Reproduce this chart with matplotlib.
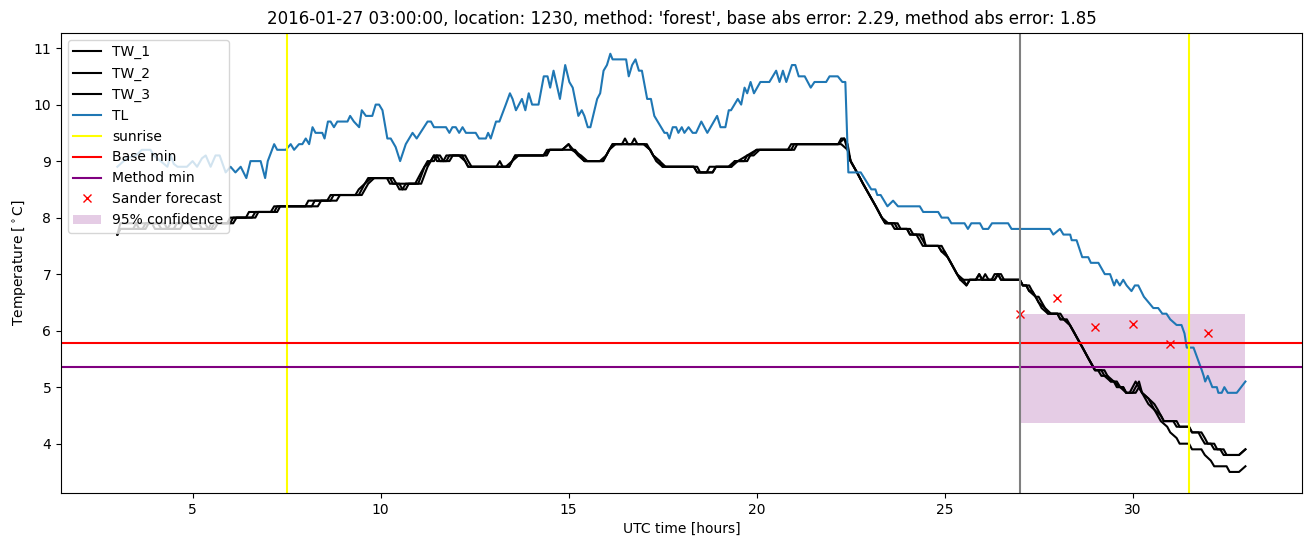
import numpy as np
import matplotlib
matplotlib.use("Agg")
import matplotlib.pyplot as plt

# TL (air temperature), vertices: hours, degC
tl_hours = [3.00, 3.25, 3.50, 3.65, 3.88, 3.97, 4.15, 4.33, 4.42, 4.50, 4.60, 4.85, 5.00, 5.12, 5.25, 5.35,
            5.48, 5.61, 5.72, 5.88, 6.01, 6.14, 6.28, 6.43, 6.54, 6.81, 6.93, 7.00, 7.17, 7.25, 7.48, 7.61,
            7.70, 7.83, 7.92, 8.01, 8.10, 8.19, 8.27, 8.45, 8.51, 8.60, 8.67, 8.76, 8.85, 9.12, 9.19, 9.29,
            9.43, 9.50, 9.61, 9.78, 9.87, 9.96, 10.05, 10.18, 10.27, 10.40, 10.52, 10.67, 10.85, 10.96, 11.25,
            11.34, 11.42, 11.74, 11.83, 11.91, 12.00, 12.09, 12.18, 12.27, 12.53, 12.62, 12.80, 12.86, 12.93,
            13.07, 13.16, 13.33, 13.44, 13.51, 13.60, 13.76, 13.85, 13.94, 14.03, 14.20, 14.34, 14.44, 14.51,
            14.60, 14.77, 14.91, 15.02, 15.11, 15.26, 15.35, 15.42, 15.51, 15.58, 15.76, 15.84, 15.93, 16.02,
            16.11, 16.17, 16.53, 16.60, 16.69, 16.78, 16.87, 16.95, 17.09, 17.19, 17.28, 17.46, 17.55, 17.62,
            17.68, 17.77, 17.86, 17.92, 18.01, 18.08, 18.19, 18.30, 18.39, 18.53, 18.69, 18.95, 19.04, 19.17,
            19.26, 19.32, 19.50, 19.59, 19.68, 19.75, 19.84, 19.93, 20.10, 20.34, 20.52, 20.61, 20.70, 20.79,
            20.94, 21.03, 21.12, 21.28, 21.44, 21.54, 21.85, 21.94, 22.16, 22.28, 22.36, 22.44, 22.77, 23.05,
            23.16, 23.21, 23.30, 23.48, 23.63, 23.76, 24.34, 24.43, 24.83, 24.92, 25.09, 25.18, 25.53, 25.62,
            25.71, 25.94, 26.02, 26.16, 26.26, 26.69, 26.78, 27.80, 27.89, 28.07, 28.16, 28.34, 28.38, 28.51,
            28.66, 28.82, 28.89, 29.09, 29.26, 29.40, 29.51, 29.57, 29.66, 29.75, 29.84, 29.97, 30.06, 30.15,
            30.30, 30.55, 30.68, 30.79, 30.90, 31.00, 31.17, 31.30, 31.38, 31.44, 31.62, 31.84, 31.89, 31.93,
            32.00, 32.12, 32.24, 32.28, 32.37, 32.44, 32.53, 32.77, 33.00]
tl_values = [8.9, 9.05, 9.1, 9.2, 9.2, 9.1, 9.0, 8.9, 9.1, 8.95, 8.9, 8.9, 9.0, 8.9, 9.05, 9.1,
             8.9, 9.1, 9.1, 8.8, 8.9, 8.8, 8.9, 8.7, 9.0, 9.0, 8.7, 9.0, 9.3, 9.2, 9.2, 9.3,
             9.2, 9.3, 9.3, 9.4, 9.3, 9.6, 9.5, 9.5, 9.4, 9.7, 9.7, 9.6, 9.7, 9.7, 9.8, 9.7,
             9.6, 9.9, 9.8, 9.8, 10.0, 10.0, 9.9, 9.4, 9.4, 9.25, 9.0, 9.3, 9.5, 9.4, 9.7,
             9.7, 9.6, 9.6, 9.5, 9.6, 9.6, 9.5, 9.6, 9.5, 9.5, 9.4, 9.4, 9.5, 9.4,
             9.7, 9.7, 10.0, 10.2, 10.1, 9.9, 10.1, 9.9, 10.2, 10.0, 10.0, 10.5, 10.5, 10.3,
             10.6, 10.1, 10.7, 10.4, 10.3, 9.8, 9.9, 9.8, 9.6, 9.6, 10.1, 10.2, 10.6, 10.7,
             10.9, 10.8, 10.8, 10.5, 10.7, 10.8, 10.6, 10.6, 10.1, 10.1, 9.8, 9.6, 9.5, 9.5,
             9.4, 9.6, 9.6, 9.5, 9.6, 9.5, 9.6, 9.5, 9.5, 9.7, 9.5, 9.8, 9.6, 9.6,
             9.9, 9.9, 10.1, 10.0, 10.3, 10.2, 10.4, 10.2, 10.4, 10.4, 10.6, 10.4, 10.6, 10.4,
             10.7, 10.7, 10.5, 10.5, 10.3, 10.4, 10.4, 10.5, 10.5, 10.4, 10.4, 8.8, 8.8, 8.5,
             8.5, 8.4, 8.4, 8.2, 8.3, 8.2, 8.2, 8.1, 8.1, 8.0, 8.0, 7.9, 7.9, 7.8,
             7.9, 7.9, 7.8, 7.8, 7.9, 7.9, 7.8, 7.8, 7.7, 7.8, 7.7, 7.7, 7.6, 7.6,
             7.3, 7.3, 7.2, 7.2, 7.0, 7.0, 6.8, 6.9, 6.8, 6.9, 6.8, 6.7, 6.8, 6.8,
             6.6, 6.4, 6.4, 6.3, 6.3, 6.2, 6.1, 6.1, 5.95, 5.7, 5.7, 5.3, 5.2, 5.1,
             5.2, 5.0, 5.0, 4.9, 4.9, 5.0, 4.9, 4.9, 5.1]

# TW_1..3 (road temperature sensors)
tw1_hours = [3.00, 3.08, 3.50, 3.58, 3.75, 3.83, 4.25, 4.33, 4.67, 4.75, 5.33, 5.42, 5.58, 5.67, 6.00, 6.08,
             6.58, 6.67, 7.17, 7.25, 8.17, 8.25, 8.58, 8.67, 9.42, 9.50, 9.58, 9.75, 10.25, 10.33, 10.50,
             10.58, 10.67, 10.75, 11.00, 11.17, 11.33, 11.42, 11.50, 11.58, 11.75, 11.83, 12.17, 12.33, 13.08,
             13.17, 13.25, 13.42, 13.58, 14.33, 14.42, 14.83, 15.00, 15.08, 15.33, 15.50, 15.83, 16.00, 16.17,
             16.42, 16.50, 16.58, 16.67, 16.75, 16.83, 17.00, 17.17, 17.33, 17.50, 18.33, 18.42, 18.83, 18.92,
             19.25, 19.42, 19.67, 19.75, 20.00, 20.92, 21.00, 22.17, 22.25, 22.33, 22.42, 22.50, 22.67, 22.83,
             23.00, 23.17, 23.33, 23.42, 23.67, 23.75, 24.00, 24.08, 24.33, 24.42, 24.50, 24.83, 24.92, 25.00,
             25.17, 25.33, 25.50, 25.58, 25.67, 25.83, 25.92, 26.00, 26.25, 26.33, 26.50, 26.58, 27.00, 27.08,
             27.17, 27.25, 27.33, 27.42, 27.50, 27.67, 27.83, 28.00, 28.08, 28.25, 28.42, 28.58, 28.75, 28.92,
             29.00, 29.17, 29.25, 29.42, 29.58, 29.67, 29.75, 29.83, 30.00, 30.08, 30.17, 30.25, 30.42, 30.58,
             30.67, 30.75, 30.83, 31.17, 31.25, 31.50, 31.58, 31.83, 31.92, 32.00, 32.17, 32.25, 32.42, 32.50,
             32.83, 33.00]
tw1_values = [7.7, 7.9, 7.9, 7.8, 7.8, 7.9, 7.9, 7.8, 7.8, 7.9, 7.9, 7.8, 7.8, 7.9, 7.9, 8.0,
              8.0, 8.1, 8.1, 8.2, 8.2, 8.3, 8.3, 8.4, 8.4, 8.5, 8.6, 8.7, 8.7, 8.6, 8.6,
              8.5, 8.5, 8.6, 8.6, 8.9, 9.0, 9.1, 9.1, 9.0, 9.0, 9.1, 9.1, 8.9, 8.9,
              9.0, 8.9, 8.9, 9.1, 9.1, 9.2, 9.2, 9.3, 9.2, 9.1, 9.0, 9.0, 9.1, 9.3,
              9.3, 9.4, 9.3, 9.3, 9.4, 9.3, 9.3, 9.2, 9.0, 8.9, 8.9, 8.8, 8.8, 8.9,
              8.9, 9.0, 9.0, 9.1, 9.2, 9.2, 9.3, 9.3, 9.4, 9.4, 9.2, 9.0, 8.8, 8.6,
              8.4, 8.2, 8.0, 7.9, 7.9, 7.8, 7.8, 7.7, 7.7, 7.6, 7.5, 7.5, 7.4, 7.4,
              7.2, 7.0, 6.9, 6.8, 6.9, 6.9, 7.0, 6.9, 6.9, 7.0, 7.0, 6.9, 6.9, 6.8,
              6.8, 6.7, 6.7, 6.6, 6.5, 6.4, 6.3, 6.3, 6.2, 6.2, 6.0, 5.8, 5.6, 5.4,
              5.3, 5.3, 5.2, 5.1, 5.1, 5.0, 5.0, 4.9, 4.9, 5.0, 5.1, 4.9, 4.8, 4.7,
              4.6, 4.5, 4.4, 4.4, 4.3, 4.3, 4.2, 4.2, 4.1, 4.0, 4.0, 3.9, 3.9, 3.8,
              3.8, 3.9]

tw2_hours = [3.00, 3.08, 3.42, 3.50, 3.92, 4.00, 4.50, 4.58, 4.92, 5.00, 5.50, 5.58, 5.92, 6.00, 6.42, 6.50,
             7.08, 7.17, 8.00, 8.08, 8.83, 8.92, 9.50, 9.67, 9.83, 10.17, 10.25, 10.42, 10.50, 10.58, 10.67,
             11.08, 11.25, 11.42, 11.50, 11.67, 11.75, 12.25, 12.33, 12.42, 13.33, 13.50, 13.58, 14.33, 14.50,
             14.83, 15.00, 15.25, 15.42, 15.92, 16.08, 16.17, 17.08, 17.25, 17.42, 17.58, 18.42, 18.50, 18.67,
             18.75, 19.33, 19.50, 19.75, 19.92, 20.08, 20.83, 20.92, 22.25, 22.42, 22.50, 22.67, 22.83, 23.00,
             23.17, 23.33, 23.42, 23.58, 23.67, 24.08, 24.17, 24.42, 24.50, 24.92, 25.00, 25.33, 25.42, 25.58,
             26.00, 26.08, 26.17, 26.33, 26.42, 26.50, 27.00, 27.08, 27.25, 27.33, 27.42, 27.50, 27.67, 27.75,
             28.08, 28.17, 28.33, 28.50, 28.67, 28.83, 29.00, 29.25, 29.33, 29.50, 29.67, 29.83, 30.08, 30.17,
             30.25, 30.42, 30.58, 30.75, 30.83, 31.08, 31.17, 31.50, 31.58, 31.75, 31.83, 31.92, 32.08, 32.17,
             32.33, 32.42, 32.83, 33.00]
tw2_values = [7.7, 7.8, 7.8, 7.9, 7.9, 7.8, 7.8, 7.9, 7.9, 7.8, 7.8, 7.9, 7.9, 8.0, 8.0, 8.1,
              8.1, 8.2, 8.2, 8.3, 8.3, 8.4, 8.4, 8.6, 8.7, 8.7, 8.6, 8.6, 8.5, 8.5, 8.6,
              8.6, 8.9, 9.1, 9.0, 9.0, 9.1, 9.1, 9.0, 8.9, 8.9, 9.0, 9.1, 9.1, 9.2,
              9.2, 9.3, 9.1, 9.0, 9.0, 9.2, 9.3, 9.3, 9.1, 9.0, 8.9, 8.9, 8.8, 8.8,
              8.9, 8.9, 9.0, 9.1, 9.1, 9.2, 9.2, 9.3, 9.3, 9.2, 9.0, 8.8, 8.6, 8.4,
              8.2, 8.0, 7.9, 7.9, 7.8, 7.8, 7.7, 7.7, 7.5, 7.5, 7.4, 7.0, 6.9, 6.9,
              6.9, 7.0, 6.9, 6.9, 7.0, 6.9, 6.9, 6.8, 6.8, 6.7, 6.6, 6.6, 6.4, 6.3,
              6.3, 6.2, 6.1, 5.9, 5.7, 5.5, 5.3, 5.3, 5.2, 5.1, 5.0, 4.9, 4.9, 5.0,
              4.9, 4.8, 4.6, 4.5, 4.4, 4.4, 4.3, 4.3, 4.2, 4.2, 4.1, 4.0, 4.0, 3.9,
              3.9, 3.8, 3.8, 3.9]

tw3_hours = [3.00, 3.08, 3.67, 3.75, 4.08, 4.17, 4.33, 4.42, 5.17, 5.25, 5.42, 5.50, 6.08, 6.17, 6.67, 6.75,
             7.25, 7.33, 8.33, 8.42, 8.67, 8.75, 9.33, 9.42, 9.58, 9.67, 10.33, 10.42, 10.92, 11.08, 11.25,
             11.42, 11.50, 11.58, 11.67, 11.83, 11.92, 12.08, 12.25, 12.33, 13.42, 13.50, 13.67, 14.42, 14.50,
             15.17, 15.42, 15.92, 16.08, 16.25, 17.00, 17.17, 17.25, 17.42, 17.50, 18.33, 18.42, 18.83, 18.92,
             19.33, 19.42, 19.75, 19.83, 20.00, 21.00, 21.08, 22.17, 22.33, 22.42, 22.50, 22.67, 22.83, 23.00,
             23.17, 23.33, 23.50, 23.75, 23.83, 24.00, 24.08, 24.25, 24.42, 24.83, 24.92, 25.08, 25.25, 25.42,
             25.58, 25.67, 25.83, 25.92, 26.00, 26.33, 26.42, 26.50, 27.00, 27.08, 27.17, 27.25, 27.42, 27.58,
             27.75, 28.00, 28.08, 28.17, 28.33, 28.50, 28.67, 28.83, 29.00, 29.08, 29.17, 29.33, 29.42, 29.50,
             29.58, 29.75, 29.83, 29.92, 30.00, 30.08, 30.25, 30.42, 30.58, 30.75, 30.92, 31.00, 31.17, 31.25,
             31.50, 31.58, 31.83, 31.92, 32.08, 32.17, 32.50, 32.58, 32.83, 33.00]
tw3_values = [7.7, 7.8, 7.8, 7.9, 7.9, 7.8, 7.8, 7.9, 7.9, 7.8, 7.8, 7.9, 7.9, 8.0, 8.0, 8.1,
              8.1, 8.2, 8.2, 8.3, 8.3, 8.4, 8.4, 8.5, 8.6, 8.7, 8.7, 8.6, 8.6, 8.8, 9.0,
              9.0, 9.1, 9.1, 9.0, 9.0, 9.1, 9.1, 9.0, 8.9, 8.9, 9.0, 9.1, 9.1, 9.2,
              9.2, 9.0, 9.0, 9.2, 9.3, 9.3, 9.2, 9.1, 9.0, 8.9, 8.9, 8.8, 8.8, 8.9,
              8.9, 9.0, 9.0, 9.1, 9.2, 9.2, 9.3, 9.3, 9.4, 9.3, 9.0, 8.8, 8.6, 8.4,
              8.2, 8.0, 7.9, 7.9, 7.8, 7.8, 7.7, 7.7, 7.5, 7.5, 7.4, 7.3, 7.1, 6.9,
              6.8, 6.9, 6.9, 7.0, 6.9, 6.9, 7.0, 6.9, 6.9, 6.8, 6.8, 6.7, 6.6, 6.4,
              6.3, 6.3, 6.2, 6.2, 6.1, 5.9, 5.7, 5.5, 5.3, 5.3, 5.2, 5.2, 5.1, 5.1,
              5.0, 5.0, 4.9, 4.9, 5.0, 5.1, 4.9, 4.7, 4.6, 4.4, 4.3, 4.2, 4.1, 4.0,
              4.0, 3.9, 3.9, 3.8, 3.7, 3.6, 3.6, 3.5, 3.5, 3.6]

sunrise_hours = [7.5, 31.5]
forecast_time = 27.0
base_min = 5.79
method_min = 5.35

sander_hours = [27, 28, 29, 30, 31, 32]
sander_values = [6.29, 6.57, 6.06, 6.11, 5.77, 5.95]

conf_hours = [27.0, 33.0]
conf_low = 4.37
conf_high = 6.29

title = ("2016-01-27 03:00:00, location: 1230, method: 'forest', "
         "base abs error: 2.29, method abs error: 1.85")

fig, ax = plt.subplots(figsize=(13.11, 5.47), dpi=100)
fig.subplots_adjust(left=0.0465, right=0.993, top=0.94, bottom=0.099)

ax.plot(tw1_hours, tw1_values, color='black', label='TW_1')
ax.plot(tw2_hours, tw2_values, color='black', label='TW_2')
ax.plot(tw3_hours, tw3_values, color='black', label='TW_3')
ax.plot(tl_hours, tl_values, color='C0', label='TL')

ax.axvline(sunrise_hours[0], color='yellow', label='sunrise')
ax.axvline(sunrise_hours[1], color='yellow')
ax.axhline(base_min, color='red', label='Base min')
ax.axhline(method_min, color='purple', label='Method min')
ax.plot(sander_hours, sander_values, 'x', color='red', label='Sander forecast')
ax.fill_between(conf_hours, [conf_low, conf_low], [conf_high, conf_high],
                color='purple', alpha=0.2, linewidth=0, label='95% confidence')
ax.axvline(forecast_time, color='gray')

ax.set_title(title)
ax.set_xlabel('UTC time [hours]')
ax.set_ylabel(r'Temperature [$^\circ$C]')
ax.legend(loc='upper left')

fig.savefig('out.png', dpi=100)
